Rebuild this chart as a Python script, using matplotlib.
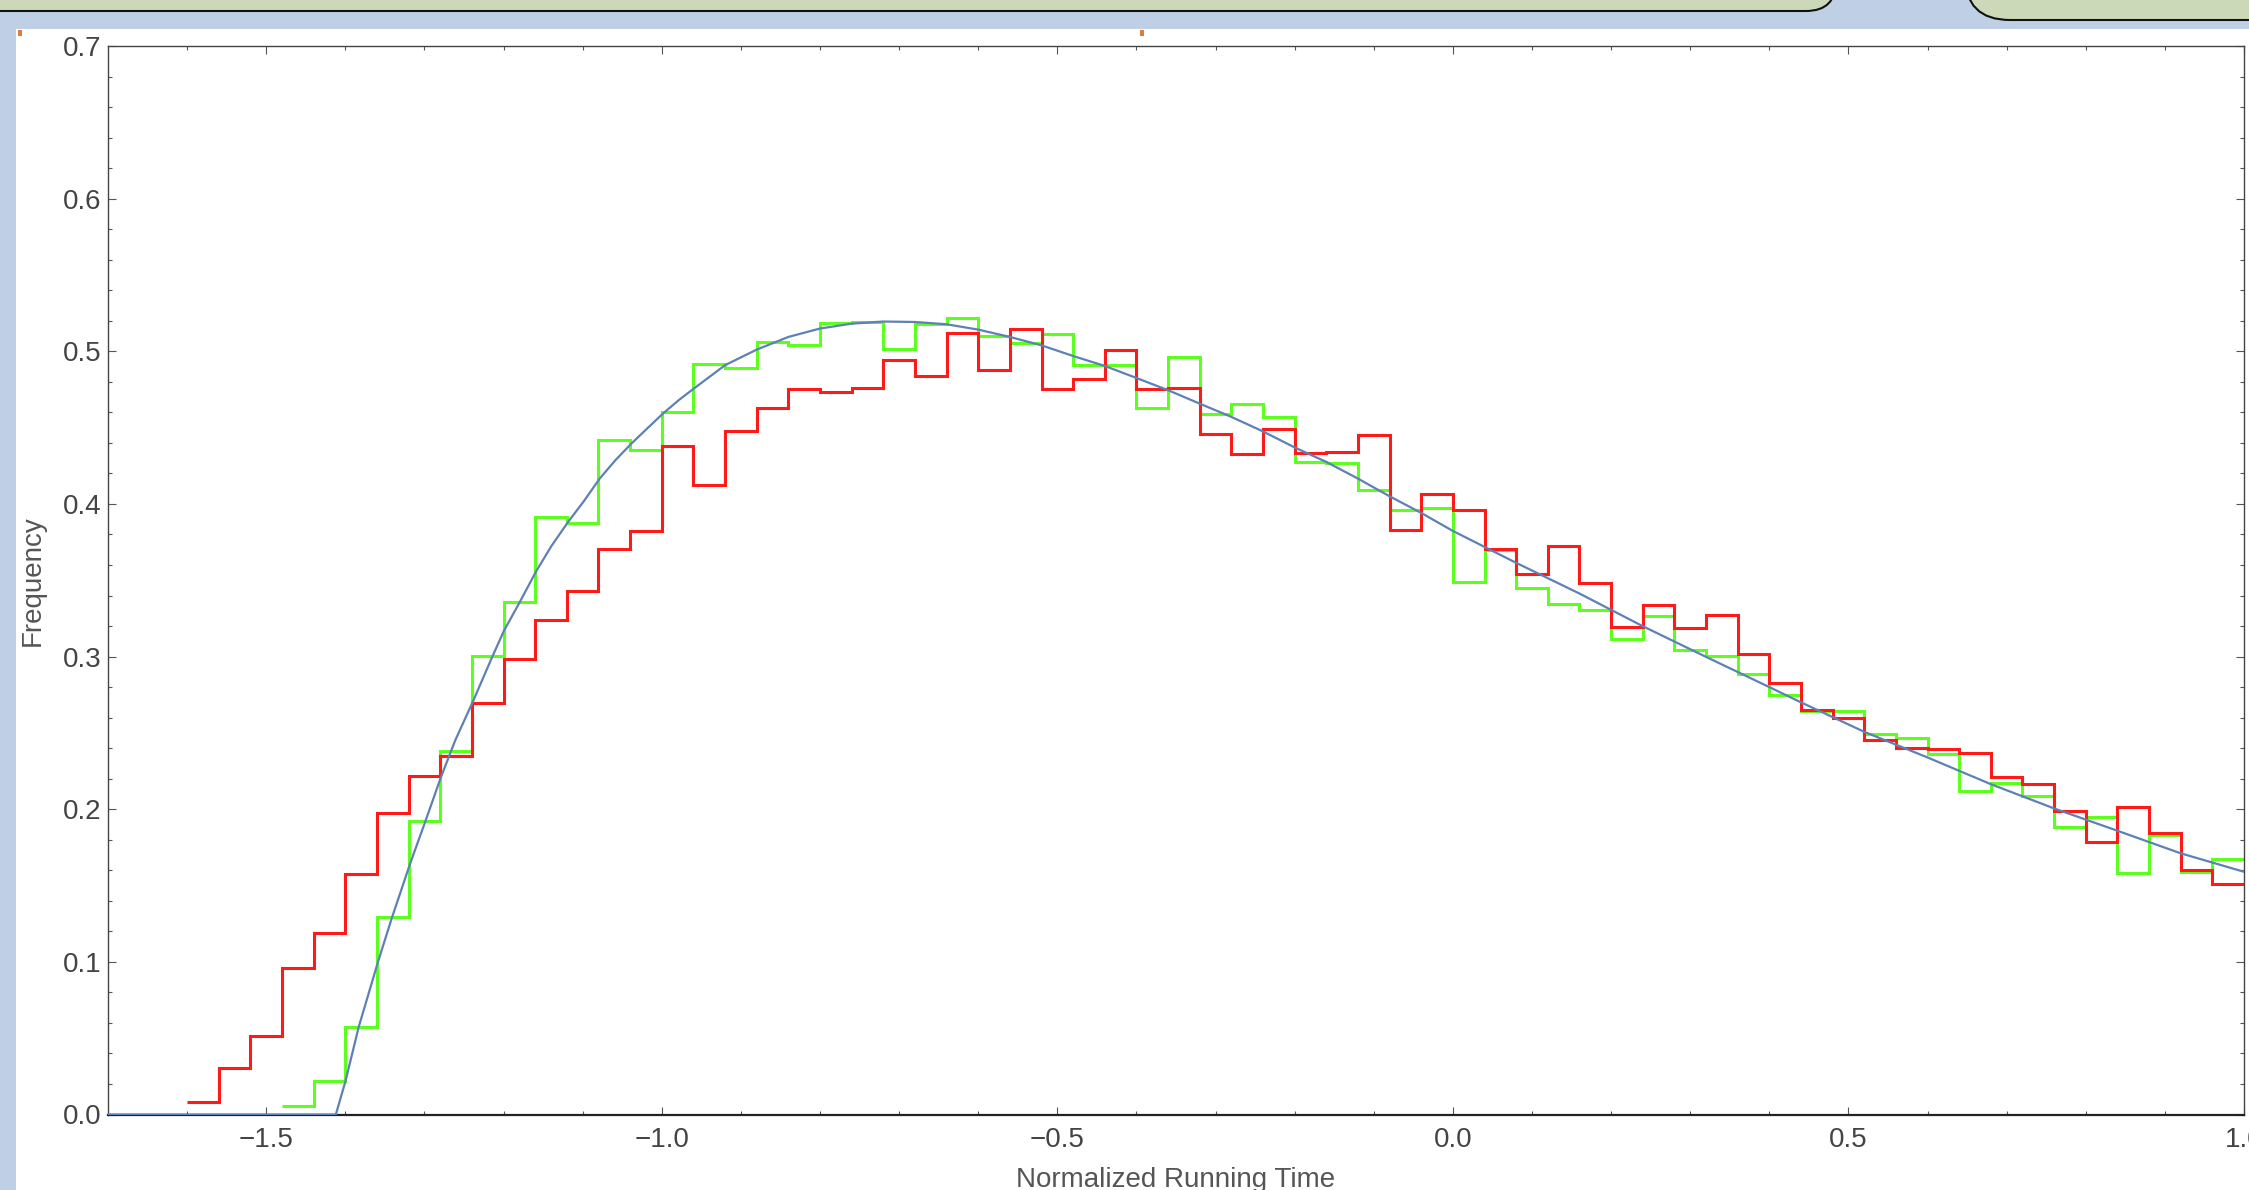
import numpy as np
import matplotlib
matplotlib.use("Agg")
import matplotlib.pyplot as plt
from matplotlib.patches import Rectangle, FancyBboxPatch

plt.rcParams["font.family"] = ["Liberation Sans", "DejaVu Sans"]

# histogram heights (frequency), bin width 0.04
bin_width = 0.04
red_start = -1.60
red_vals = [0.0084, 0.0302, 0.0514, 0.0957, 0.1187, 0.1573, 0.1972, 0.2217, 0.2348, 0.2693,
            0.2985, 0.3240, 0.343, 0.3705, 0.3825, 0.438, 0.4127, 0.4476, 0.463, 0.4756,
            0.473, 0.476, 0.4946, 0.484, 0.5118, 0.488, 0.5144, 0.4753, 0.4817, 0.501,
            0.4753, 0.4762, 0.4459, 0.4328, 0.4494, 0.4334, 0.4343, 0.4452, 0.3826, 0.4063,
            0.3959, 0.3708, 0.354, 0.3727, 0.3483, 0.3195, 0.3339, 0.3186, 0.3273, 0.3014,
            0.2828, 0.2649, 0.2595, 0.2453, 0.2398, 0.2392, 0.2365, 0.2212, 0.2162, 0.1988,
            0.1785, 0.2012, 0.1841, 0.1601, 0.1507]

green_start = -1.48
green_vals = [0.0056, 0.0219, 0.0575, 0.1291, 0.1922, 0.238, 0.3003, 0.3358, 0.3915, 0.3876,
              0.4422, 0.4356, 0.460, 0.4915, 0.489, 0.506, 0.504, 0.5186, 0.519, 0.5015,
              0.5177, 0.522, 0.510, 0.5054, 0.5111, 0.4913, 0.4908, 0.4629, 0.4963, 0.4592,
              0.4657, 0.4572, 0.4275, 0.4269, 0.409, 0.3959, 0.3972, 0.3489, 0.3697, 0.3446,
              0.3343, 0.3304, 0.3114, 0.3269, 0.3046, 0.3003, 0.2885, 0.2745, 0.2644, 0.2644,
              0.2496, 0.2468, 0.2361, 0.212, 0.2169, 0.2086, 0.1885, 0.195, 0.158, 0.183,
              0.1586, 0.1673]

# fitted density curve
curve_x = [-1.70, -1.412, -1.400, -1.383, -1.358, -1.341, -1.318, -1.299, -1.279, -1.261,
           -1.238, -1.215, -1.1996, -1.1794, -1.1592, -1.1394, -1.1184, -1.0982, -1.0785, -1.0587,
           -1.0385, -1.0187, -0.9985, -0.9788, -0.9594, -0.920, -0.880, -0.840, -0.800, -0.760,
           -0.720, -0.680, -0.640, -0.600, -0.560, -0.520, -0.480, -0.440, -0.400, -0.360,
           -0.320, -0.280, -0.240, -0.200, -0.160, -0.120, -0.080, -0.040, 0.000, 0.080,
           0.160, 0.240, 0.320, 0.400, 0.440, 0.520, 0.600, 0.680, 0.760, 0.840,
           0.920, 1.000]
curve_y = [0.0, 0.0, 0.0215, 0.0575, 0.1012, 0.1291, 0.1645, 0.1918, 0.2212, 0.2452,
           0.2714, 0.2990, 0.3168, 0.3358, 0.3555, 0.3725, 0.3882, 0.4020, 0.4166, 0.4286,
           0.4395, 0.4493, 0.4592, 0.4679, 0.4756, 0.4909, 0.5011, 0.5094, 0.5149, 0.5181,
           0.5195, 0.5192, 0.5177, 0.5142, 0.5094, 0.5039, 0.4969, 0.4904, 0.4825, 0.4745,
           0.4657, 0.4570, 0.4475, 0.437, 0.4275, 0.4166, 0.4050, 0.3941, 0.3823, 0.3614,
           0.3413, 0.3199, 0.2998, 0.2800, 0.2700, 0.2507, 0.2339, 0.2164, 0.2005, 0.1859,
           0.1711, 0.1590]

x_ticks = [-1.5, -1.0, -0.5, 0.0, 0.5, 1.0]
y_ticks = [0.0, 0.1, 0.2, 0.3, 0.4, 0.5, 0.6, 0.7]

W, H = 2249, 1190
fig = plt.figure(figsize=(W / 100, H / 100), dpi=100)

# notebook chrome around the graphic (pixel coords)
bg = fig.add_axes([0, 0, 1, 1])
bg.set_xlim(0, W)
bg.set_ylim(H, 0)
bg.axis("off")
bg.add_patch(Rectangle((0, 0), W, 29, color="#bfd0e6", lw=0))
bg.add_patch(Rectangle((0, 0), 16, H, color="#bfd0e6", lw=0))
bg.add_patch(FancyBboxPatch((-40, -40), 1876, 51, boxstyle="round,pad=0,rounding_size=30",
                            fc="#ccd9b9", ec="#111111", lw=1.5))
bg.add_patch(FancyBboxPatch((1965, -60), 400, 80, boxstyle="round,pad=0,rounding_size=45",
                            fc="#ccd9b9", ec="#111111", lw=1.5))
bg.add_patch(Rectangle((18, 30), 4, 6, color="#e07b39", lw=0))
bg.add_patch(Rectangle((1140, 30), 4, 6, color="#e07b39", lw=0))

ax = fig.add_axes([108 / W, 1 - 1114.5 / H, (2244 - 108) / W, (1114.5 - 46) / H])

red_edges = np.round(red_start + bin_width * np.arange(len(red_vals) + 1), 2)
green_edges = np.round(green_start + bin_width * np.arange(len(green_vals) + 1), 2)

ax.plot(curve_x, curve_y, color="#5e81b5", lw=1.6, zorder=3)
ax.stairs(green_vals, green_edges, baseline=None, color="#5cff1e", lw=2.2, zorder=2)
ax.stairs(red_vals, red_edges, baseline=None, color="#ff1a1a", lw=2.2, zorder=2)

ax.set_xlim(-1.7, 1.0)
ax.set_ylim(0, 0.7)
ax.set_xticks(x_ticks)
ax.set_yticks(y_ticks)
ax.set_xticks(np.round(np.arange(-1.6, 1.01, 0.1), 2), minor=True)
ax.set_yticks(np.round(np.arange(0, 0.701, 0.02), 2), minor=True)
ax.xaxis.set_major_formatter(plt.FuncFormatter(lambda v, p: f"{v:.1f}".replace("-", "\u2212")))
ax.yaxis.set_major_formatter(plt.FuncFormatter(lambda v, p: f"{v:.1f}"))

ax.tick_params(which="both", direction="in", top=True, right=True, colors="#555555",
               labelcolor="#444444", labelsize=20, width=0.8)
ax.tick_params(which="major", length=6)
ax.tick_params(which="minor", length=3)
ax.tick_params(axis="x", pad=9)
ax.tick_params(axis="y", pad=5)
for side in ["top", "right", "left"]:
    ax.spines[side].set_color("#444444")
    ax.spines[side].set_linewidth(1.0)
ax.spines["bottom"].set_color("#222222")
ax.spines["bottom"].set_linewidth(1.6)

ax.set_xlabel("Normalized Running Time", fontsize=20, color="#555555")
ax.set_ylabel("Frequency", fontsize=20, color="#555555")
ax.xaxis.set_label_coords(0.5, -0.049)
ax.yaxis.set_label_coords(-0.029, 0.5)

fig.savefig("out.png", dpi=100)
